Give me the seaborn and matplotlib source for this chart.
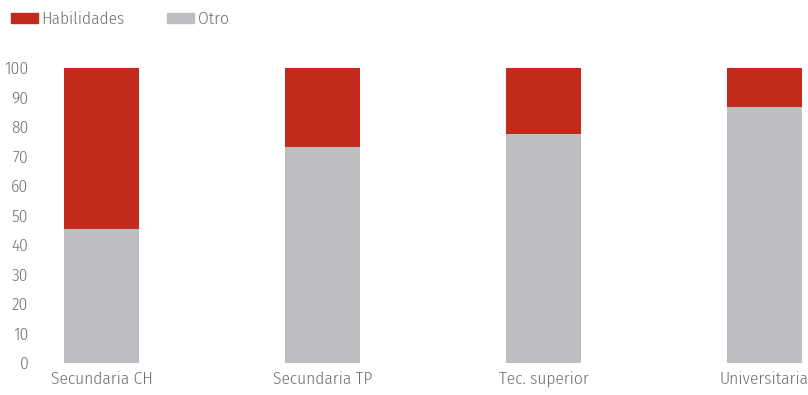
import seaborn as sns
from matplotlib import pyplot as plt
from matplotlib.patches import Patch
import pandas as pd

categorias = ["Secundaria CH", "Secundaria TP", "Tec. superior", "Universitaria"]
otro = [45.4, 73.2, 77.6, 86.8]
habilidades = [54.6, 26.8, 22.4, 13.2]

ROJO = "#C02B1B"
GRIS = "#BDBEC1"
TEXTO = "#707070"

sns.set_style("white")
plt.rcParams["font.family"] = ["Fira Sans Condensed", "DejaVu Sans"]
plt.rcParams["font.weight"] = 300

df = pd.DataFrame({"categoria": categorias, "otro": otro, "habilidades": habilidades})
df["total"] = df["otro"] + df["habilidades"]

fig = plt.figure(figsize=(8.08, 3.95), dpi=100)
ax = fig.add_axes([45 / 808, 32.3 / 395, 1 - 45 / 808, 294.7 / 395])

# stacked: total in red, then the gray part drawn over it
sns.barplot(data=df, x="categoria", y="total", color=ROJO, width=0.34,
            saturation=1, linewidth=0, ax=ax)
sns.barplot(data=df, x="categoria", y="otro", color=GRIS, width=0.34,
            saturation=1, linewidth=0, ax=ax)

ax.set_ylim(0, 100)
ax.set_xlim(-0.256, 3.197)
ax.set_yticks(range(0, 101, 10))
ax.set_xlabel("")
ax.set_ylabel("")
sns.despine(ax=ax, left=True, bottom=True)
ax.tick_params(axis="both", length=0, labelsize=12.5, colors=TEXTO)
ax.tick_params(axis="y", pad=12)
ax.tick_params(axis="x", pad=6)

handles = [Patch(color=ROJO, label="Habilidades"), Patch(color=GRIS, label="Otro")]
fig.legend(handles=handles, loc="upper left", bbox_to_anchor=(0.0, 1.0),
           ncol=2, frameon=False, fontsize=12.5, labelcolor=TEXTO,
           handlelength=1.55, handleheight=0.47, handletextpad=0.2,
           columnspacing=2.45, borderaxespad=0.25)

fig.savefig("out.png", dpi=100)
